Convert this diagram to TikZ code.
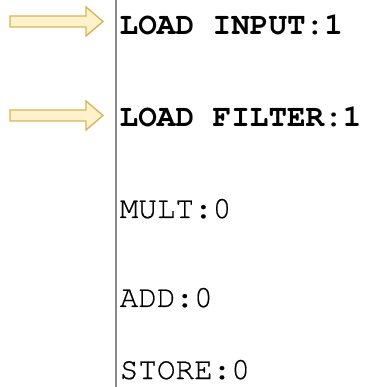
\documentclass[tikz,border=0pt]{standalone}
\usepackage{fontspec}
\newfontfamily\codefont{texgyrecursor}[Extension=.otf,UprightFont=*-regular,BoldFont=*-bold,UprightFeatures={FakeBold=0.5}]
\begin{document}
\begin{tikzpicture}[x=1pt,y=1pt,
  stage/.style={anchor=base west,inner sep=0pt,font=\codefont\fontsize{31}{36}\selectfont},
  active/.style={stage,font=\codefont\bfseries\fontsize{31}{36}\selectfont},
  pointer/.style={draw=arrowedge,fill=arrowfill,line width=1.4pt,line join=miter}]
\definecolor{arrowfill}{HTML}{FFF2CC}
\definecolor{arrowedge}{HTML}{D6B656}
\definecolor{divider}{HTML}{8A8A8A}
\useasboundingbox (0,0) rectangle (364,387);
% divider between pointers and pipeline stages
\coordinate (divtop) at (116,387);
\coordinate (divbot) at (116,0);
\draw[divider,line width=1.2pt] (divtop) -- (divbot);
% pipeline stage labels
\node[active] (load-in) at (119.5,352) {LOAD INPUT:1};
\node[active] (load-f) at (119.5,260) {LOAD FILTER:1};
\node[stage] (mult) at (119.5,169) {MULT:0};
\node[stage] (add) at (119.5,80) {ADD:0};
\node[stage] (store) at (119.5,8) {STORE:0};
% block arrows marking the active stages
\foreach \cy in {365.5,271.5}{
  \draw[pointer] (10,\cy-5.5) -- (86,\cy-5.5) -- (86,\cy-14.5) -- (103,\cy)
    -- (86,\cy+14.5) -- (86,\cy+5.5) -- (10,\cy+5.5) -- cycle;
}
\end{tikzpicture}
\end{document}
